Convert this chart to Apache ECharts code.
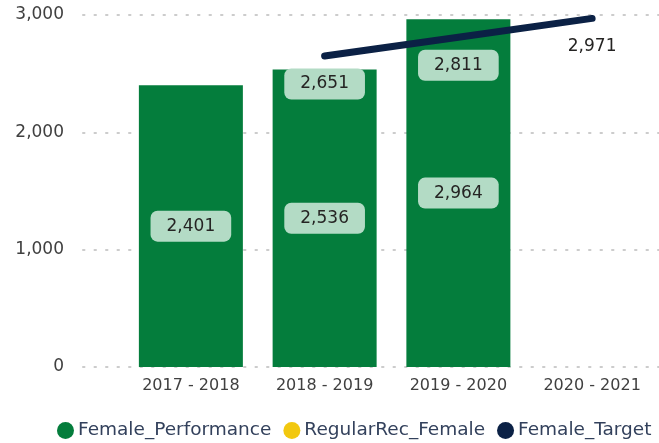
<!DOCTYPE html>
<html>
<head>
<meta charset="utf-8">
<script src="https://cdn.jsdelivr.net/npm/echarts@6/dist/echarts.min.js"></script>
<style>
    html, body { margin: 0; padding: 0; background: #fff; }
    #chart { width: 659px; height: 443px; }
</style>
</head>
<body>
<div id="chart"></div>
<script>
// 数据
var categories = ['2017 - 2018', '2018 - 2019', '2019 - 2020', '2020 - 2021'];
var performance = [2401, 2536, 2964, null];
var regularRec = [];
var target = [null, 2651, 2811, 2971];
var yMax = 3000;
var yStep = 1000;

var font = 'DejaVu Sans, sans-serif';

function fmt(v) {
    return Number(v).toLocaleString('en-US');
}

var labelBox = {
    show: true,
    fontFamily: font,
    fontSize: 17,
    color: '#252423',
    backgroundColor: '#b3dbc5',
    borderRadius: 7,
    padding: [7, 16],
    formatter: function (p) {
        return fmt(p.value);
    }
};

var chart = echarts.init(document.getElementById('chart'));
chart.setOption({
    animation: false,
    grid: [
        { left: 83, right: 0, top: 15, bottom: 76 },
        { left: 124, right: 0, top: 15, bottom: 76 }
    ],
    legend: {
        left: 57,
        top: 421,
        padding: 0,
        icon: 'circle',
        itemWidth: 17,
        itemHeight: 17,
        itemGap: 12,
        textStyle: {
            fontFamily: font,
            fontSize: 18.5,
            color: '#33415c',
            padding: [0, 0, 0, -1]
        },
        data: ['Female_Performance', 'RegularRec_Female', 'Female_Target']
    },
    xAxis: [
        { type: 'value', gridIndex: 0, show: false, min: 0, max: 1 },
        {
            type: 'category',
            gridIndex: 1,
            data: categories,
            axisLine: { show: false },
            axisTick: { show: false },
            axisLabel: {
                margin: 11,
                fontFamily: font,
                fontSize: 16,
                color: '#404040'
            }
        }
    ],
    yAxis: [
        {
            type: 'value',
            gridIndex: 0,
            min: 0,
            max: yMax,
            interval: yStep,
            axisLine: { show: false },
            axisTick: { show: false },
            axisLabel: {
                margin: 19,
                fontFamily: font,
                fontSize: 17,
                color: '#404040',
                formatter: fmt
            },
            splitLine: {
                show: true,
                lineStyle: { color: '#cccccc', width: 2, type: [1.5, 10], cap: 'round' }
            }
        },
        {
            type: 'value',
            gridIndex: 1,
            min: 0,
            max: yMax,
            interval: yStep,
            show: false,
            splitLine: { show: false }
        }
    ],
    series: [
        {
            name: 'Female_Performance',
            type: 'bar',
            xAxisIndex: 1,
            yAxisIndex: 1,
            barWidth: 104,
            itemStyle: { color: '#047d3c' },
            label: Object.assign({}, labelBox, { position: 'inside' }),
            data: performance
        },
        {
            name: 'RegularRec_Female',
            type: 'line',
            xAxisIndex: 1,
            yAxisIndex: 1,
            itemStyle: { color: '#f2c80f' },
            data: regularRec
        },
        {
            name: 'Female_Target',
            type: 'line',
            xAxisIndex: 1,
            yAxisIndex: 1,
            z: 5,
            symbol: 'circle',
            symbolSize: 1,
            showSymbol: true,
            lineStyle: { color: '#0b2145', width: 7, cap: 'round' },
            itemStyle: { color: '#0b2145' },
            label: Object.assign({}, labelBox, { position: 'bottom', distance: 12 }),
            data: target.map(function (v, i) {
                if (i === target.length - 1) {
                    return { value: v, label: { backgroundColor: 'transparent' } };
                }
                return v;
            })
        }
    ]
});
</script>
</body>
</html>
